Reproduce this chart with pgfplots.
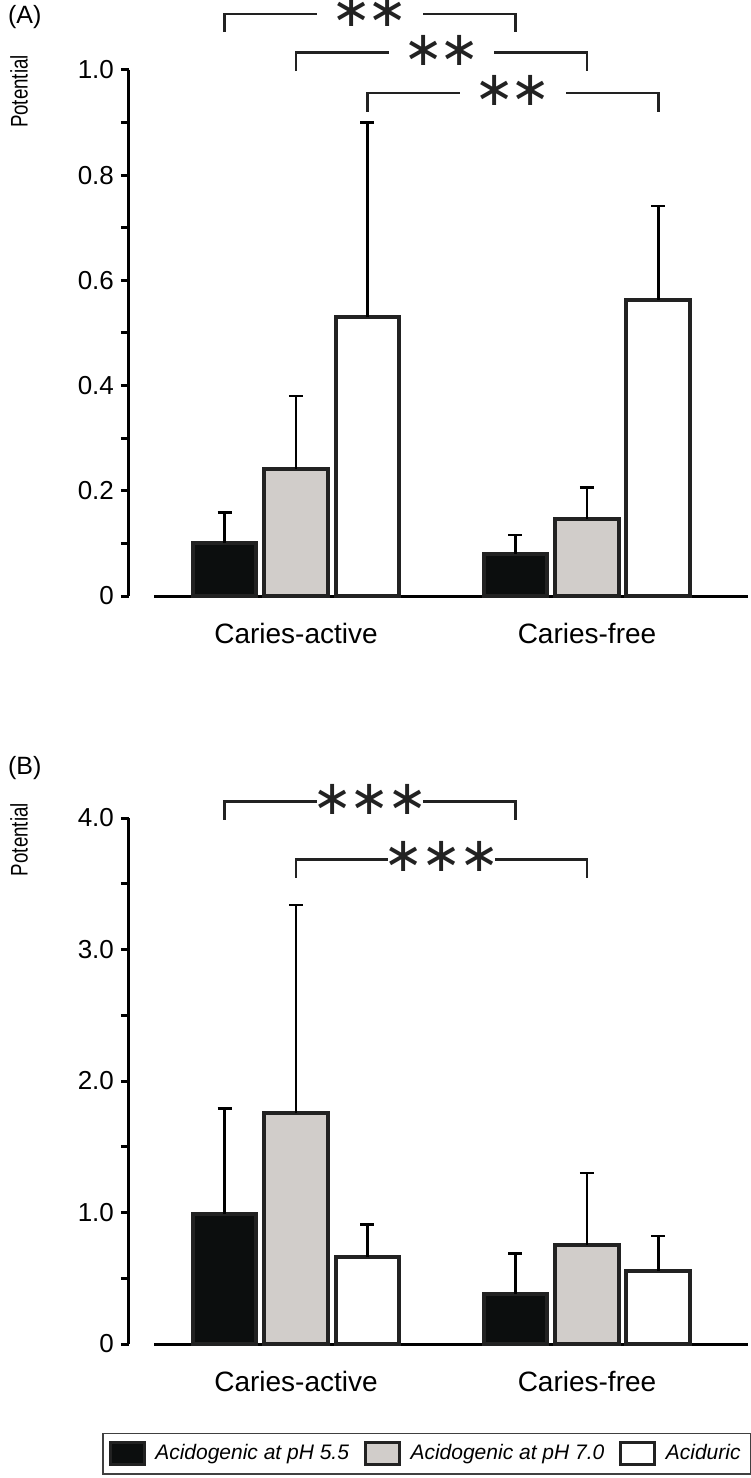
\documentclass[border=0pt]{standalone}
\usepackage{fontspec}
\setmainfont{Liberation Sans}
\newfontfamily\starfont{DejaVu Sans}
\usepackage{pgfplots}
\pgfplotsset{compat=1.18}

\definecolor{barblack}{HTML}{0C0E0E}
\definecolor{bargray}{HTML}{D1CDCA}
\definecolor{edge}{HTML}{222222}

% 1 px of the reference = 0.5pt
\pgfplotsset{
  cariesbars/.style={
    width=309.5pt, height=263pt, scale only axis,
    clip=false,
    axis x line*=bottom, axis y line*=left,
    x axis line style={line width=1.5pt, -, shorten <=12.5pt},
    y axis line style={line width=1.5pt, -},
    xmin=-0.5739, xmax=1.5533, ymin=0,
    xtick={0,1}, xticklabels={Caries-active,Caries-free},
    xtick style={draw=none},
    tick align=outside,
    major tick length=4pt, minor tick length=4pt,
    tick style={line width=1.5pt, black},
    minor y tick num=1,
    yticklabel style={font=\fontsize{13}{15}\selectfont},
    xticklabel style={font=\fontsize{14}{16}\selectfont, yshift=-6pt},
    /pgf/number format/assume math mode=true,
    ybar, bar width=0.2199,
    every axis plot/.append style={draw=edge, line width=2pt},
    error bars/y dir=plus, error bars/y explicit,
    error bars/error bar style={line width=1.25pt, black},
    error bars/error mark options={rotate=90, mark size=3.5pt, line width=1.25pt, black},
  },
}
\tikzset{
  stars/.style={fill=white, inner ysep=0pt, text height=12.4pt, text depth=-7.4pt,
    font=\starfont\fontsize{24}{24}\selectfont, text=edge},
  ylab/.style={rotate=90, font=\fontsize{12}{14}\selectfont},
}
\newcommand{\ylab}{\scalebox{0.78}[1]{Potential}}

\begin{document}
\begin{tikzpicture}
\useasboundingbox (-64.5pt,-441pt) rectangle (310.5pt,298pt);

% ---- panel A
\begin{axis}[cariesbars, ymax=1,
  ytick={0,0.2,0.4,0.6,0.8,1}, yticklabels={0,0.2,0.4,0.6,0.8,1.0}]
\addplot[fill=barblack, bar shift=-0.2457] coordinates {(0,0.100) +- (0,0.059) (1,0.080) +- (0,0.036)};
\addplot[fill=bargray, bar shift=0] coordinates {(0,0.241) +- (0,0.139) (1,0.147) +- (0,0.059)};
\addplot[fill=white, bar shift=0.2457] coordinates {(0,0.530) +- (0,0.370) (1,0.563) +- (0,0.178)};

\draw[line width=1.25pt, edge] (axis cs:-0.2457,1.072) |- (axis cs:0.7543,1.106) -- (axis cs:0.7543,1.072);
\draw[line width=1.25pt, edge] (axis cs:0,0.998) |- (axis cs:1,1.033) -- (axis cs:1,0.998);
\draw[line width=1.25pt, edge] (axis cs:0.2457,0.921) |- (axis cs:1.2457,0.956) -- (axis cs:1.2457,0.921);
\node[stars, inner xsep=7.25pt] at (axis cs:0.2543,1.106) {∗\kern-2.2pt∗};
\node[stars, inner xsep=7.25pt] at (axis cs:0.5,1.033) {∗\kern-2.2pt∗};
\node[stars, inner xsep=7.25pt] at (axis cs:0.7457,0.956) {∗\kern-2.2pt∗};

\node[ylab] at (rel axis cs:-0.1777,0.959) {\ylab};
\node[anchor=west, font=\fontsize{12.5}{14}\selectfont] at (rel axis cs:-0.2068,1.1008) {(A)};
\end{axis}

% ---- panel B
\begin{axis}[cariesbars, at={(0,-374pt)}, ymax=4,
  ytick={0,1,2,3,4}, yticklabels={0,1.0,2.0,3.0,4.0},
  legend columns=3,
  legend style={at={(-0.0436,-0.169)}, anchor=north west, draw=black!75, line width=0.75pt,
    inner ysep=3.5pt,
    font=\fontsize{10.5}{12}\selectfont\itshape,
    /tikz/every even column/.append style={column sep=5.5pt}},
  legend image code/.code={\draw[#1, line width=1.5pt] (0pt,-5.5pt) rectangle (17pt,5.5pt);
    \path (19.5pt,0pt);}]
\addplot[fill=barblack, bar shift=-0.2457] coordinates {(0,0.985) +- (0,0.805) (1,0.380) +- (0,0.310)};
\addplot[fill=bargray, bar shift=0] coordinates {(0,1.760) +- (0,1.580) (1,0.754) +- (0,0.546)};
\addplot[fill=white, bar shift=0.2457] coordinates {(0,0.665) +- (0,0.245) (1,0.556) +- (0,0.264)};
\legend{Acidogenic at pH 5.5, Acidogenic at pH 7.0, Aciduric}

\draw[line width=1.25pt, edge] (axis cs:-0.2457,3.985) |- (axis cs:0.7543,4.124) -- (axis cs:0.7543,3.985);
\draw[line width=1.25pt, edge] (axis cs:0,3.547) |- (axis cs:1,3.686) -- (axis cs:1,3.547);
\node[stars, inner xsep=-2.25pt] at (axis cs:0.2543,4.124) {∗\kern-1.2pt∗\kern-1.2pt∗};
\node[stars, inner xsep=-2.25pt] at (axis cs:0.5,3.686) {∗\kern-1.2pt∗\kern-1.2pt∗};

\node[ylab] at (rel axis cs:-0.1777,0.959) {\ylab};
\node[anchor=west, font=\fontsize{12.5}{14}\selectfont] at (rel axis cs:-0.2068,1.095) {(B)};
\end{axis}
\end{tikzpicture}
\end{document}
